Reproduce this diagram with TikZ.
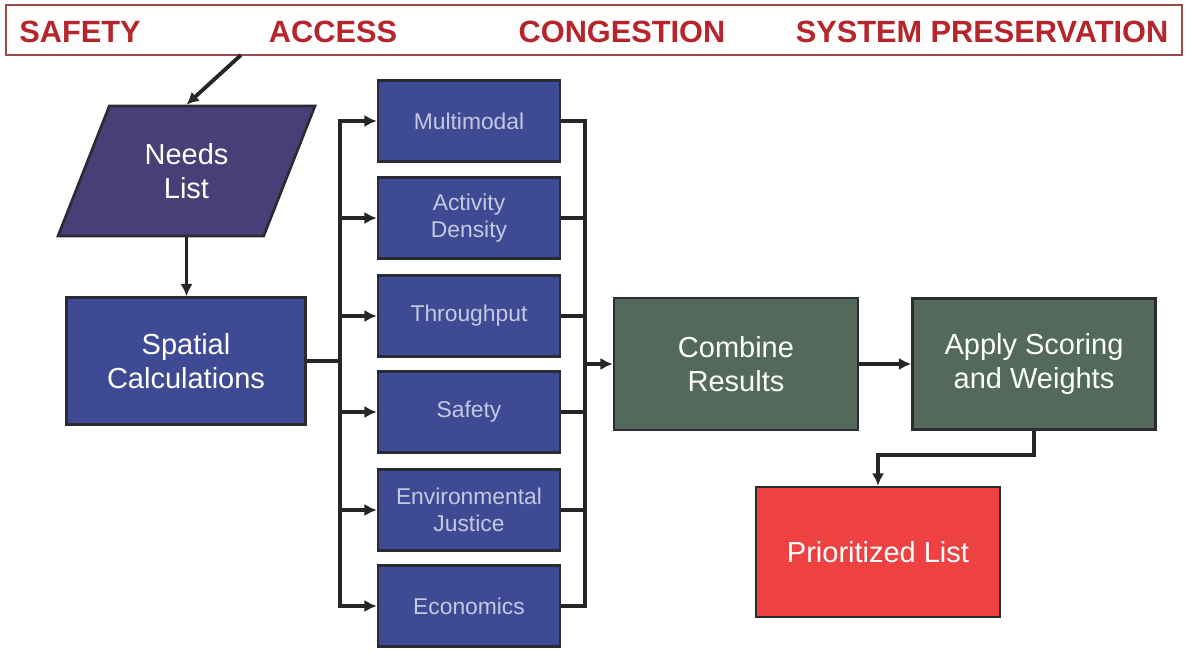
\documentclass[tikz,border=0pt]{standalone}
\usepackage{fontspec}
\setmainfont{Liberation Sans}
\usetikzlibrary{arrows.meta, shapes.geometric}
\definecolor{needsfill}{HTML}{4A3E78}
\definecolor{boxblue}{HTML}{3F4A94}
\definecolor{boxgreen}{HTML}{52695C}
\definecolor{prired}{HTML}{EE4242}
\definecolor{boxline}{HTML}{2B2B33}
\definecolor{goalred}{HTML}{B5252B}
\definecolor{goalline}{HTML}{9C4A4A}
\definecolor{smalltext}{HTML}{C4C9E2}

\begin{document}
\begin{tikzpicture}[x=0.02cm, y=-0.02cm]
	\tikzset{box/.style = {shape=rectangle, draw=boxline, line width=1.5pt,
			align=center, text=white, font=\fontsize{16.5}{19}\selectfont}}
	\tikzset{process/.style = {box, fill=boxblue, minimum width=4.78cm, minimum height=2.54cm}}
	\tikzset{measure/.style = {box, fill=boxblue, text=smalltext, minimum width=3.64cm,
			minimum height=1.62cm, font=\fontsize{13}{15}\selectfont}}
	\tikzset{result/.style = {box, fill=boxgreen, minimum width=4.88cm, minimum height=2.64cm}}
	\tikzset{goal/.style = {text=goalred, font=\fontsize{17.5}{20}\selectfont\bfseries}}
	\tikzset{edge/.style = {->, > = {Latex[length=7pt, width=7pt]}, line width=2.2pt, draw=black!85}}
	\useasboundingbox (0,0) rectangle (1188,650);
	% goals
	\node[draw=goalline, line width=1pt, minimum width=23.52cm, minimum height=1cm] (goals) at (594,30) {};
	\node[goal] (safety) at (80,32) {SAFETY};
	\node[goal] (access) at (333,32) {ACCESS};
	\node[goal] (congestion) at (622,32) {CONGESTION};
	\node[goal] (preservation) at (982,32) {SYSTEM PRESERVATION};
	\coordinate (tap) at (241,55);
	% vertices
	\node[box, shape=trapezium, trapezium left angle=63, trapezium right angle=117,
		trapezium stretches=true, fill=needsfill, minimum width=5.18cm, minimum height=2.6cm,
		inner sep=0pt] (needs) at (186.5,171) {Needs\\List};
	\node[process] (spatial) at (186,361) {Spatial\\Calculations};
	\node[measure] (m1) at (469,121) {Multimodal};
	\node[measure] (m2) at (469,218) {Activity\\Density};
	\node[measure] (m3) at (469,316) {Throughput};
	\node[measure] (m4) at (469,412) {Safety};
	\node[measure] (m5) at (469,510) {Environmental\\Justice};
	\node[measure] (m6) at (469,606) {Economics};
	\node[result] (combine) at (736,364) {Combine\\Results};
	\node[result, minimum width=4.86cm, minimum height=2.62cm] (apply) at (1034,364) {Apply Scoring\\and Weights};
	\node[box, fill=prired, minimum width=4.88cm, minimum height=2.6cm] (prior) at (878,552) {Prioritized List};
	\coordinate (split) at (340,361);
	\coordinate (merge) at (585,364);
	%edges
	\draw[edge] (tap) -- (needs.north);
	\draw[edge] (needs.south) -- (needs.south |- spatial.north);
	\foreach \i in {1,...,6} {
		\draw[edge] (spatial.east) -- (split) |- (m\i.west);
		\draw[edge, -] (m\i.east) -| (merge);
	}
	\draw[edge] (merge) -- (combine.west);
	\draw[edge] (combine) -- (apply);
	\draw[edge] (apply.south) -- ++(0,24) -| (prior.north);
\end{tikzpicture}
\end{document}
